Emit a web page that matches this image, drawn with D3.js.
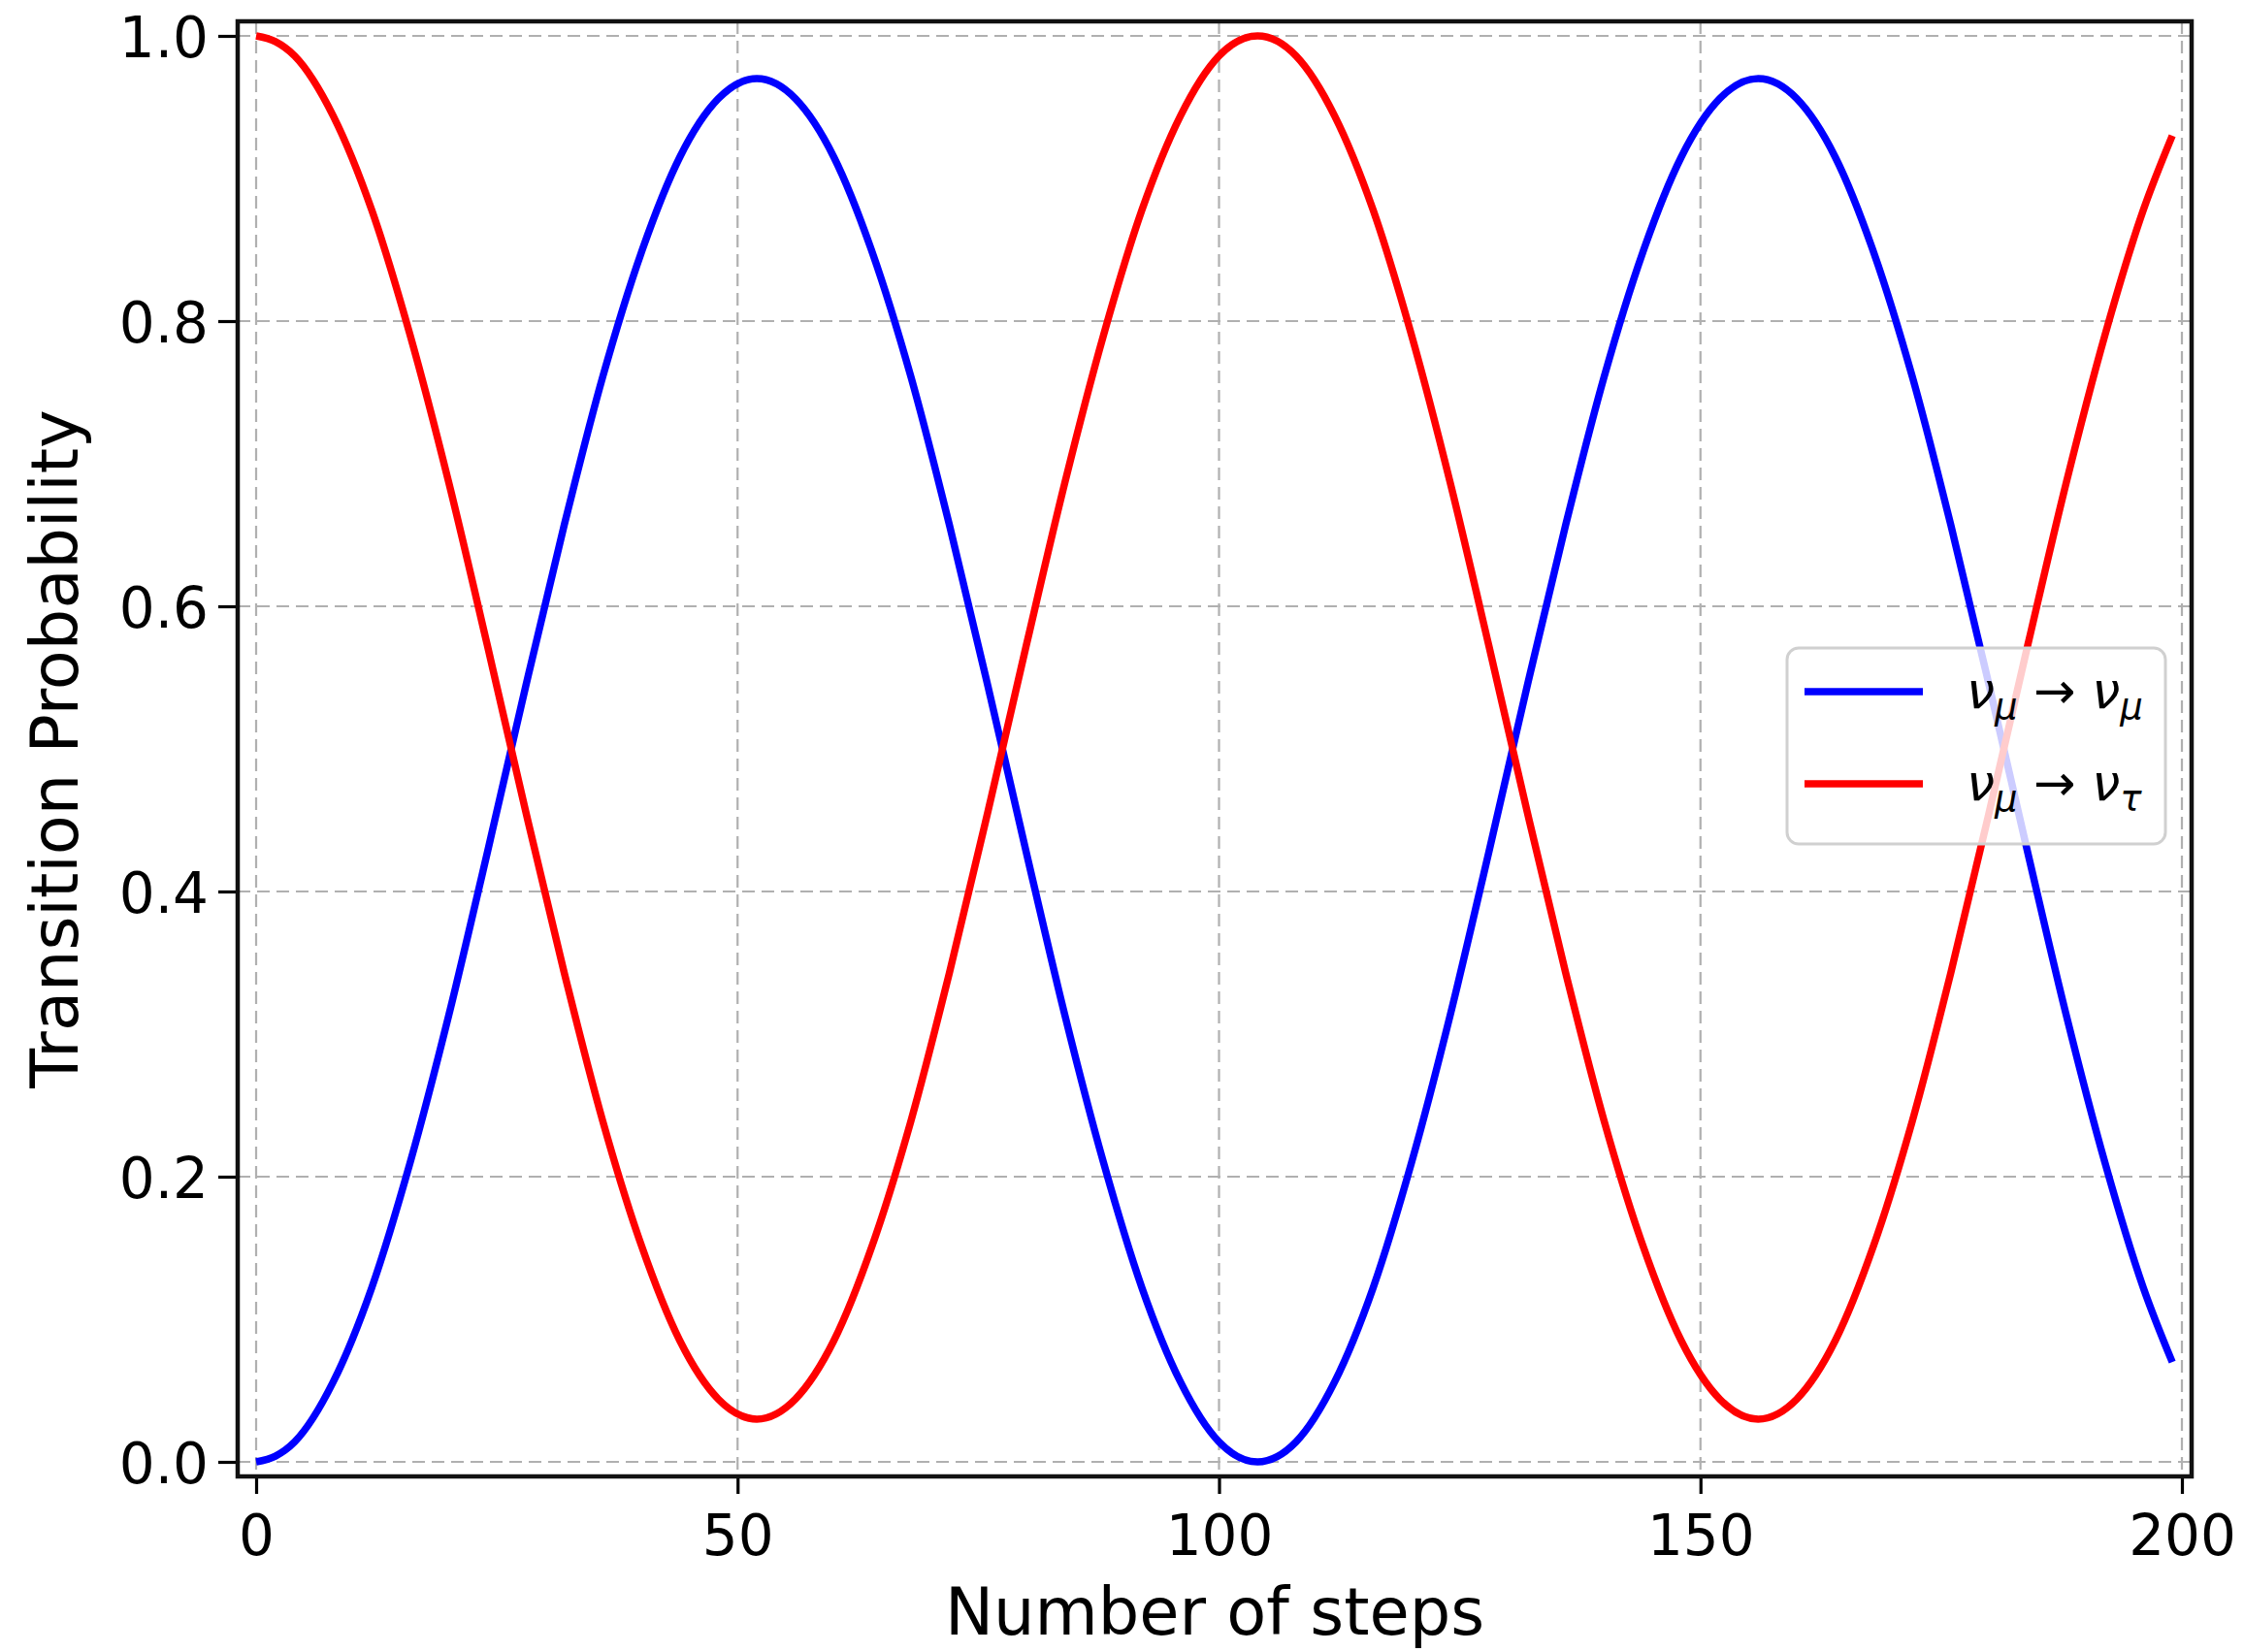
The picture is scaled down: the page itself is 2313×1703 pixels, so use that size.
<!DOCTYPE html>
<html>
<head>
<meta charset="utf-8">
<script src="https://cdn.jsdelivr.net/npm/d3@7"></script>
<style>
  body { margin: 0; background: #fff; }
  text { font-family: "DejaVu Sans", sans-serif; fill: #000; }
</style>
</head>
<body>
<svg width="2313" height="1703"></svg>
<script>
// values
let steps = [0, 2, 4, 8, 12, 16, 20, 24, 28, 32, 36, 40, 44, 48, 52, 56, 60, 64, 68, 72, 76,
    80, 84, 88, 92, 96, 100, 104, 108, 112, 116, 120, 124, 128, 132, 136, 140, 144, 148,
    152, 156, 160, 164, 168, 172, 176, 180, 184, 188, 192, 196, 199];
let muMu = [0, .004, .014, .056, .122, .210, .313, .427, .544, .657, .761, .848, .915, .956, .970,
    .956, .915, .848, .761, .657, .544, .427, .313, .210, .122, .056, .014, 0,
    .014, .056, .122, .210, .313, .427, .544, .657, .761, .848, .915, .956, .970,
    .956, .915, .848, .761, .657, .544, .427, .313, .210, .122, .070];
let muTau = [1, .996, .986, .944, .878, .790, .687, .573, .456, .343, .239, .152, .085, .044, .030,
    .044, .085, .152, .239, .343, .456, .573, .687, .790, .878, .944, .986, 1,
    .986, .944, .878, .790, .687, .573, .456, .343, .239, .152, .085, .044, .030,
    .044, .085, .152, .239, .343, .456, .573, .687, .790, .878, .930];
let xTicks = [0, 50, 100, 150, 200];
let yTicks = [0, 0.2, 0.4, 0.6, 0.8, 1.0];

let svg = d3.select('svg');

// plot frame (pixels) and scales
let frame = {left: 245, right: 2259, top: 22, bottom: 1522};
let xScale = d3.scaleLinear().domain([0, 200]).range([264, 2249]);
let yScale = d3.scaleLinear().domain([0, 1]).range([1507, 37]);

// grid
let grid = svg.append('g')
    .attr('stroke', '#b0b0b0')
    .attr('stroke-width', 2.2)
    .attr('stroke-dasharray', '13,7');
grid.selectAll('.gx').data(xTicks).enter().append('line')
    .attr('x1', d => xScale(d)).attr('x2', d => xScale(d))
    .attr('y1', frame.top).attr('y2', frame.bottom);
grid.selectAll('.gy').data(yTicks).enter().append('line')
    .attr('y1', d => yScale(d)).attr('y2', d => yScale(d))
    .attr('x1', frame.left).attr('x2', frame.right);

// curves
let series = [
    {name: 'mumu', values: muMu, color: 'blue'},
    {name: 'mutau', values: muTau, color: 'red'}
];
let line = d3.line()
    .x((d, i) => xScale(steps[i]))
    .y(d => yScale(d))
    .curve(d3.curveMonotoneX);

svg.append('g').selectAll('path').data(series).enter().append('path')
    .attr('d', d => line(d.values))
    .attr('fill', 'none')
    .attr('stroke', d => d.color)
    .attr('stroke-width', 7.5)
    .attr('stroke-linejoin', 'round');

// axes
let xAxis = d3.axisBottom(xScale).tickValues(xTicks).tickSize(18).tickPadding(14)
    .tickFormat(d3.format('d'));
let yAxis = d3.axisLeft(yScale).tickValues(yTicks).tickSize(20).tickPadding(10)
    .tickFormat(d3.format('.1f'));

let gx = svg.append('g').attr('transform', `translate(0,${frame.bottom})`).call(xAxis);
let gy = svg.append('g').attr('transform', `translate(${frame.left},0)`).call(yAxis);
[gx, gy].forEach(g => {
    g.select('.domain').remove();
    g.selectAll('line').attr('stroke', '#000').attr('stroke-width', 3.2);
    g.selectAll('text').attr('font-size', 58).attr('font-family', 'DejaVu Sans').attr('fill', '#000');
});
gx.selectAll('text').attr('dy', null).attr('y', 81);
gy.selectAll('text').attr('dy', null).attr('y', 21);

svg.append('rect')
    .attr('x', frame.left).attr('y', frame.top)
    .attr('width', frame.right - frame.left)
    .attr('height', frame.bottom - frame.top)
    .attr('fill', 'none')
    .attr('stroke', '#111')
    .attr('stroke-width', 4.5);

// axis labels
svg.append('text')
    .attr('x', (frame.left + frame.right) / 2)
    .attr('y', 1685)
    .attr('text-anchor', 'middle')
    .attr('font-size', 67)
    .text('Number of steps');

svg.append('text')
    .attr('transform', `translate(80,${(frame.top + frame.bottom) / 2}) rotate(-90)`)
    .attr('text-anchor', 'middle')
    .attr('font-size', 67)
    .text('Transition Probability');

// legend
let legend = svg.append('g');
legend.append('rect')
    .attr('x', 1842).attr('y', 668)
    .attr('width', 390).attr('height', 202)
    .attr('rx', 12)
    .attr('fill', 'rgba(255,255,255,0.8)')
    .attr('stroke', '#d0d0d0')
    .attr('stroke-width', 3);

let legendItems = [
    {color: 'blue', target: 'μ'},
    {color: 'red', target: 'τ'}
];
let rows = legend.selectAll('.item').data(legendItems).enter().append('g')
    .attr('transform', (d, i) => `translate(0,${713 + i * 95})`);
rows.append('line')
    .attr('x1', 1860).attr('x2', 1982)
    .attr('stroke', d => d.color)
    .attr('stroke-width', 7.5);
let label = rows.append('text')
    .attr('x', 2027).attr('y', 17)
    .attr('font-size', 52);
label.append('tspan').attr('font-style', 'italic').text('ν');
label.append('tspan').attr('font-style', 'italic').attr('font-size', 37).attr('dy', 11).text('μ');
label.append('tspan').attr('dy', -11).text(' → ');
label.append('tspan').attr('font-style', 'italic').text('ν');
label.append('tspan').attr('font-style', 'italic').attr('font-size', 37).attr('dy', 11).text(d => d.target);
</script>
</body>
</html>
